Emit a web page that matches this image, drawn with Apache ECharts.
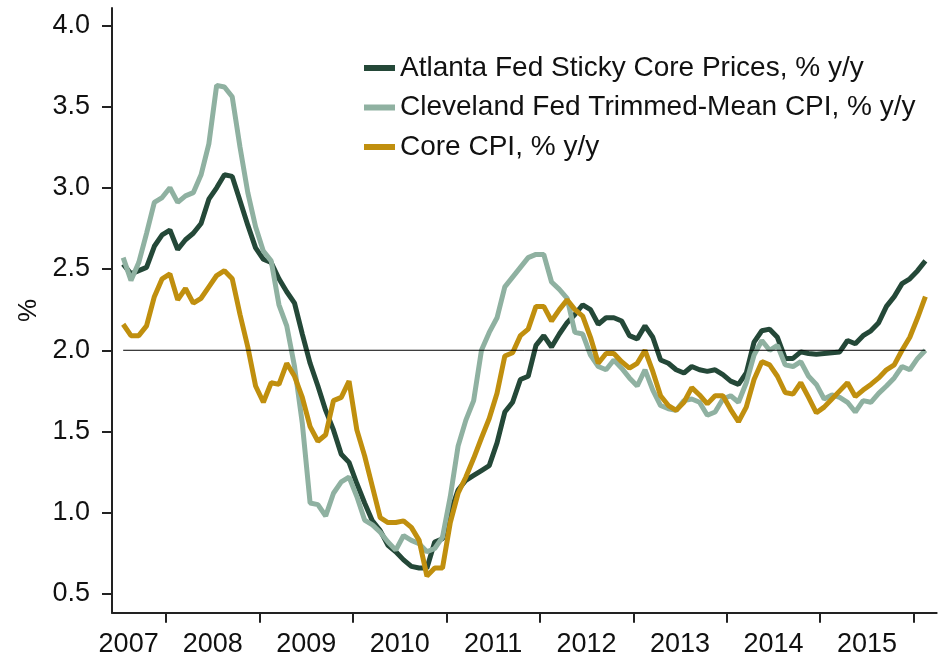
<!DOCTYPE html>
<html>
<head>
<meta charset="utf-8">
<script src="https://cdn.jsdelivr.net/npm/echarts@6/dist/echarts.min.js"></script>
<style>
html,body{margin:0;padding:0;background:#fff;}
#chart{width:942px;height:660px;}
</style>
</head>
<body>
<div id="chart"></div>
<script>
// Monthly observations, July 2007 through February 2016
const startYear = 2007;
const startMonth = 7;

const atlantaSticky = [
  2.53, 2.47, 2.49, 2.51, 2.64, 2.71, 2.74, 2.62, 2.68, 2.72, 2.78, 2.93,
  3.00, 3.08, 3.07, 2.92, 2.77, 2.63, 2.56, 2.54, 2.44, 2.36, 2.29, 2.10,
  1.92, 1.78, 1.63, 1.51, 1.36, 1.31, 1.18, 1.06, 0.95, 0.89, 0.80, 0.76,
  0.71, 0.67, 0.66, 0.66, 0.82, 0.84, 1.00, 1.14, 1.20, 1.23, 1.26, 1.29,
  1.43, 1.62, 1.68, 1.82, 1.84, 2.03, 2.09, 2.02, 2.10, 2.17, 2.22, 2.28,
  2.25, 2.16, 2.20, 2.20, 2.18, 2.09, 2.07, 2.15, 2.08, 1.94, 1.92, 1.88,
  1.86, 1.90, 1.88, 1.87, 1.88, 1.85, 1.81, 1.79, 1.86, 2.05, 2.12, 2.13,
  2.08, 1.95, 1.95, 1.99, 1.98, 1.975, 1.98, 1.985, 1.99, 2.06, 2.04, 2.09,
  2.12, 2.17, 2.27, 2.33, 2.41, 2.44, 2.49, 2.55
];

const clevelandTrimmed = [
  2.57, 2.43, 2.54, 2.72, 2.91, 2.94, 3.00, 2.91, 2.95, 2.97, 3.08, 3.27,
  3.63, 3.62, 3.56, 3.25, 2.97, 2.76, 2.61, 2.55, 2.28, 2.15, 1.90, 1.55,
  1.06, 1.05, 0.98, 1.12, 1.19, 1.22, 1.10, 0.955, 0.925, 0.88, 0.82, 0.77,
  0.86, 0.83, 0.81, 0.76, 0.78, 0.85, 1.10, 1.41, 1.57, 1.69, 2.00, 2.11,
  2.20, 2.39, 2.45, 2.51, 2.57, 2.59, 2.59, 2.42, 2.375, 2.32, 2.11, 2.10,
  1.97, 1.90, 1.88, 1.94, 1.89, 1.83, 1.78, 1.88, 1.755, 1.66, 1.64, 1.63,
  1.69, 1.70, 1.68, 1.60, 1.62, 1.70, 1.72, 1.68, 1.80, 1.97, 2.06, 2.00,
  2.03, 1.91, 1.90, 1.93, 1.84, 1.79, 1.70, 1.725, 1.71, 1.68, 1.62, 1.69,
  1.68, 1.735, 1.78, 1.83, 1.90, 1.88, 1.95, 2.00
];

const coreCPI = [
  2.16, 2.09, 2.09, 2.15, 2.33, 2.44, 2.47, 2.31, 2.38, 2.29, 2.32, 2.39,
  2.46, 2.49, 2.44, 2.22, 2.02, 1.78, 1.68, 1.80, 1.79, 1.92, 1.84, 1.71,
  1.53, 1.44, 1.48, 1.69, 1.71, 1.81, 1.51, 1.35, 1.16, 0.97, 0.94, 0.94,
  0.95, 0.91, 0.83, 0.61, 0.66, 0.66, 0.94, 1.12, 1.22, 1.335, 1.46, 1.58,
  1.735, 1.965, 1.985, 2.09, 2.13, 2.27, 2.27, 2.18, 2.25, 2.31, 2.25, 2.21,
  2.08, 1.92, 1.98, 1.98, 1.93, 1.89, 1.92, 2.00, 1.87, 1.72, 1.66, 1.63,
  1.68, 1.77, 1.725, 1.67, 1.72, 1.72, 1.635, 1.56, 1.65, 1.82, 1.93, 1.91,
  1.84, 1.74, 1.73, 1.80, 1.71, 1.615, 1.65, 1.70, 1.75, 1.80, 1.715, 1.755,
  1.79, 1.83, 1.88, 1.91, 2.00, 2.08, 2.20, 2.33
];

const referenceLevel = 2.0;

const seriesNames = [
  'Atlanta Fed Sticky Core Prices, % y/y',
  'Cleveland Fed Trimmed-Mean CPI, % y/y',
  'Core CPI, % y/y'
];
const seriesColors = ['#244838', '#8fb1a1', '#c08f0e'];

const yTickValues = [0.5, 1.0, 1.5, 2.0, 2.5, 3.0, 3.5, 4.0];
const xTickValues = [2008, 2009, 2010, 2011, 2012, 2013, 2014, 2015, 2016];
const xLabelPositions = [2007.6, 2008.5, 2009.5, 2010.5, 2011.5, 2012.5, 2013.5, 2014.5, 2015.5];

// mid-month position in fractional years
const xs = atlantaSticky.map((_, i) => startYear + (startMonth - 1 + i + 0.5) / 12);
const pair = arr => arr.map((v, i) => [xs[i], v]);

const chart = echarts.init(document.getElementById('chart'), null, {renderer: 'canvas'});
const textColor = '#111';
const fontFamily = '"Liberation Sans", Arial, sans-serif';

chart.setOption({
  animation: false,
  backgroundColor: '#fff',
  textStyle: {fontFamily: fontFamily},
  grid: {left: 112, right: 5.3, top: 8, bottom: 47.2, containLabel: false},
  legend: {
    data: seriesNames,
    orient: 'vertical',
    left: 364,
    top: 54,
    padding: 0,
    itemGap: 11.5,
    itemWidth: 31,
    itemHeight: 6,
    icon: 'rect',
    textStyle: {fontSize: 28, color: textColor, fontFamily: fontFamily}
  },
  xAxis: {
    type: 'value',
    min: 2007.422,
    max: 2016.246,
    splitLine: {show: false},
    axisLine: {show: true, onZero: false, lineStyle: {color: '#222', width: 2}},
    axisTick: {show: true, customValues: xTickValues, length: 10, lineStyle: {color: '#222', width: 2}},
    axisLabel: {
      customValues: xLabelPositions,
      formatter: v => String(Math.floor(v)),
      fontSize: 27, color: textColor, margin: 18, fontFamily: fontFamily
    }
  },
  yAxis: {
    type: 'value',
    min: 0.3843,
    max: 4.1065,
    name: '%',
    nameLocation: 'middle',
    nameGap: 68,
    nameRotate: 90,
    nameTextStyle: {fontSize: 26, color: textColor, fontFamily: fontFamily},
    splitLine: {show: false},
    axisLine: {show: true, onZero: false, lineStyle: {color: '#222', width: 2}},
    axisTick: {show: true, customValues: yTickValues, length: 10, lineStyle: {color: '#222', width: 2}},
    axisLabel: {
      customValues: yTickValues,
      formatter: v => v.toFixed(1),
      fontSize: 27, color: textColor, margin: 22, fontFamily: fontFamily
    }
  },
  series: [
    {
      name: seriesNames[0], type: 'line', data: pair(atlantaSticky),
      showSymbol: false, symbol: 'none', color: seriesColors[0],
      lineStyle: {width: 5, color: seriesColors[0]}, z: 2
    },
    {
      name: seriesNames[1], type: 'line', data: pair(clevelandTrimmed),
      showSymbol: false, symbol: 'none', color: seriesColors[1],
      lineStyle: {width: 5, color: seriesColors[1]}, z: 2
    },
    {
      name: seriesNames[2], type: 'line', data: pair(coreCPI),
      showSymbol: false, symbol: 'none', color: seriesColors[2],
      lineStyle: {width: 5, color: seriesColors[2]}, z: 2
    },
    {
      name: 'ref', type: 'line',
      data: [[xs[0], referenceLevel], [xs[xs.length - 1], referenceLevel]],
      showSymbol: false, symbol: 'none', silent: true,
      lineStyle: {width: 1, color: '#000'}, z: 3
    }
  ]
});
</script>
</body>
</html>
